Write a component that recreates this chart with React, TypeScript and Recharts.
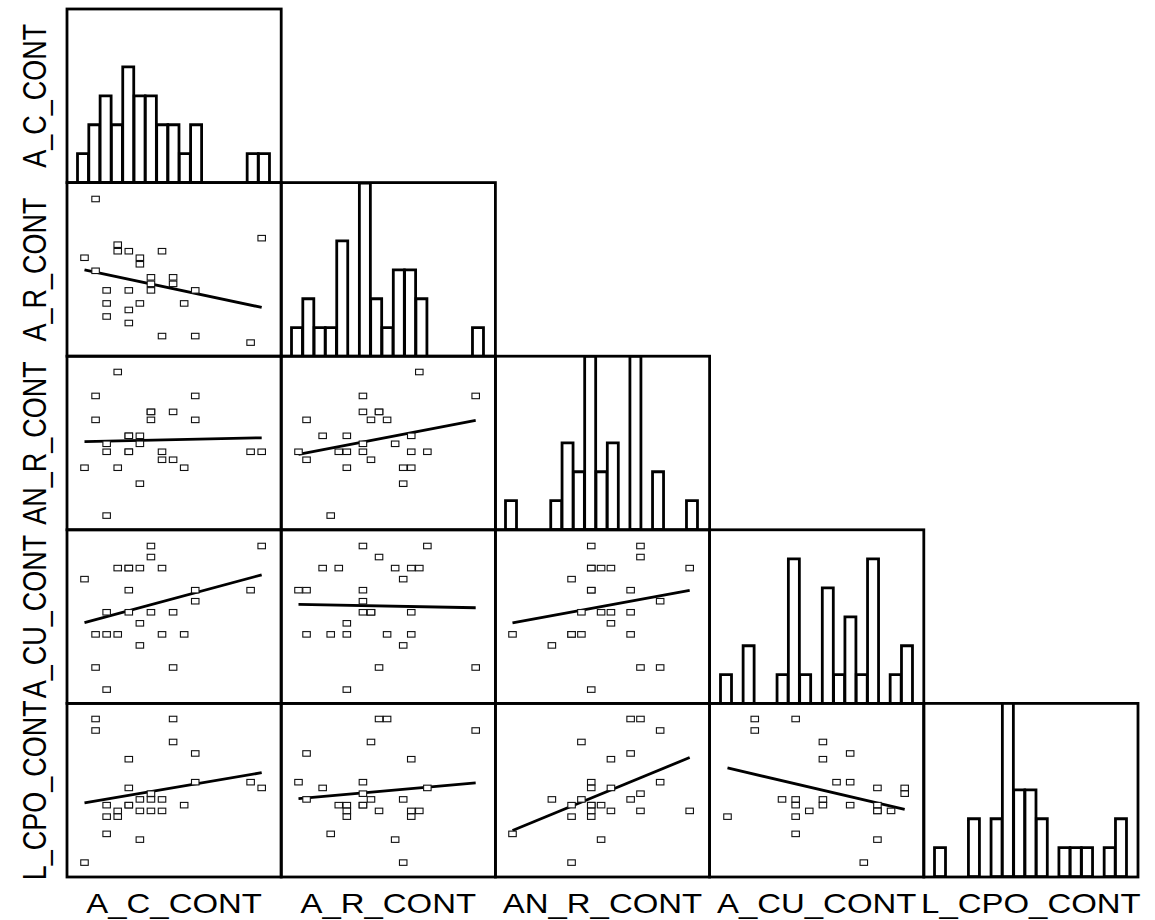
import React from 'react'
import { ScatterChart, Scatter, XAxis, YAxis, ReferenceLine, BarChart, Bar } from 'recharts'

const variables = ['A_C_CONT', 'A_R_CONT', 'AN_R_CONT', 'A_CU_CONT', 'L_CPO_CONT']
// observed min / max of each variable (integer steps)
const ranges: [number, number][] = [[0, 16], [0, 22], [0, 18], [0, 13], [0, 25]]

// 17 equal-width bins per variable
const histACCont = [1, 2, 3, 2, 4, 3, 3, 2, 2, 1, 2, 0, 0, 0, 0, 1, 1]
const histARCont = [1, 2, 1, 1, 4, 0, 6, 2, 1, 3, 3, 2, 0, 0, 0, 0, 1]
const histANRCont = [1, 0, 0, 0, 1, 3, 2, 6, 2, 3, 0, 6, 0, 2, 0, 0, 1]
const histACUCont = [1, 0, 2, 0, 0, 1, 5, 1, 0, 4, 1, 3, 1, 5, 0, 1, 2]
const histLCPOCont = [1, 0, 0, 2, 0, 2, 8, 3, 3, 2, 0, 1, 1, 1, 0, 1, 2]

// scatter pairs [x, y]
const arVsAc = [[1, 22], [16, 16], [3, 15], [3, 14], [4, 14], [7, 14], [0, 13], [5, 13], [5, 12], [1, 11], [6, 10], [8, 10], [6, 9], [8, 9], [2, 8], [4, 8], [6, 8], [10, 8], [2, 6], [5, 6], [9, 6], [4, 5], [2, 4], [4, 3], [7, 1], [10, 1], [15, 0]]
const anrVsAc = [[3, 18], [1, 15], [10, 15], [6, 13], [6, 13], [8, 13], [1, 12], [6, 12], [10, 12], [4, 10], [4, 10], [5, 10], [2, 9], [5, 9], [2, 8], [4, 8], [4, 8], [7, 8], [15, 8], [16, 8], [7, 7], [8, 7], [0, 6], [3, 6], [9, 6], [5, 4], [2, 0]]
const anrVsAr = [[15, 18], [8, 15], [22, 15], [8, 13], [10, 13], [10, 13], [1, 12], [9, 12], [11, 12], [3, 10], [6, 10], [14, 10], [8, 9], [12, 9], [0, 8], [5, 8], [6, 8], [8, 8], [14, 8], [16, 8], [1, 7], [9, 7], [6, 6], [13, 6], [14, 6], [13, 4], [4, 0]]
const acuVsAc = [[6, 13], [16, 13], [6, 12], [3, 11], [4, 11], [4, 11], [5, 11], [7, 11], [0, 10], [4, 9], [10, 9], [15, 9], [10, 8], [2, 7], [4, 7], [6, 7], [8, 7], [5, 6], [1, 5], [2, 5], [3, 5], [7, 5], [9, 5], [5, 4], [1, 2], [8, 2], [2, 0]]
const acuVsAr = [[8, 13], [16, 13], [10, 12], [3, 11], [5, 11], [12, 11], [14, 11], [15, 11], [13, 10], [0, 9], [1, 9], [8, 9], [8, 8], [8, 7], [9, 7], [9, 7], [14, 7], [6, 6], [1, 5], [4, 5], [6, 5], [11, 5], [14, 5], [13, 4], [10, 2], [22, 2], [6, 0]]
const acuVsAnr = [[8, 13], [13, 13], [13, 12], [8, 11], [8, 11], [9, 11], [10, 11], [18, 11], [6, 10], [8, 9], [8, 9], [12, 9], [15, 8], [7, 7], [9, 7], [10, 7], [12, 7], [10, 6], [0, 5], [6, 5], [6, 5], [7, 5], [12, 5], [4, 4], [13, 2], [15, 2], [8, 0]]
const lcpoVsAc = [[1, 25], [8, 25], [1, 23], [8, 21], [10, 19], [4, 18], [10, 14], [15, 14], [4, 13], [16, 13], [6, 12], [5, 11], [6, 11], [7, 11], [2, 10], [4, 10], [4, 10], [9, 10], [3, 9], [5, 9], [6, 9], [7, 9], [2, 8], [3, 8], [2, 5], [5, 4], [0, 0]]
const lcpoVsAr = [[10, 25], [11, 25], [22, 23], [9, 21], [1, 19], [14, 18], [0, 14], [8, 14], [3, 13], [16, 13], [8, 12], [1, 11], [9, 11], [13, 11], [5, 10], [6, 10], [8, 10], [8, 10], [6, 9], [10, 9], [14, 9], [15, 9], [6, 8], [14, 8], [4, 5], [12, 4], [13, 0]]
const lcpoVsAnr = [[12, 25], [13, 25], [15, 23], [7, 21], [12, 19], [10, 18], [8, 14], [15, 14], [8, 13], [10, 13], [13, 12], [4, 11], [7, 11], [12, 11], [6, 10], [8, 10], [8, 10], [9, 10], [8, 9], [10, 9], [13, 9], [18, 9], [6, 8], [8, 8], [0, 5], [9, 4], [6, 0]]
const lcpoVsAcu = [[2, 25], [5, 25], [2, 23], [7, 21], [9, 19], [7, 18], [8, 14], [9, 14], [11, 13], [13, 13], [13, 12], [4, 11], [5, 11], [7, 11], [5, 10], [7, 10], [9, 10], [11, 10], [6, 9], [11, 9], [11, 9], [12, 9], [0, 8], [5, 8], [5, 5], [11, 4], [10, 0]]

const histograms = [histACCont, histARCont, histANRCont, histACUCont, histLCPOCont]
// scatters[row][col], row = y variable, col = x variable
const scatters: Record<string, number[][]> = {
  '1-0': arVsAc,
  '2-0': anrVsAc, '2-1': anrVsAr,
  '3-0': acuVsAc, '3-1': acuVsAr, '3-2': acuVsAnr,
  '4-0': lcpoVsAc, '4-1': lcpoVsAr, '4-2': lcpoVsAnr, '4-3': lcpoVsAcu,
}

const LEFT = 67
const TOP = 9
const CELL_W = 214.2
const CELL_H = 173.6
const FONT = '"Liberation Sans", Arial, sans-serif'

// data min sits 17.5px from the left edge, max 19.5px from the right
function xDomain([lo, hi]: [number, number]): [number, number] {
  const k = (CELL_W - 37) / (hi - lo)
  return [lo - 17.5 / k, lo + (CELL_W - 17.5) / k]
}
// data max sits 16px below the top, min 14px above the bottom
function yDomain([lo, hi]: [number, number]): [number, number] {
  const k = (CELL_H - 30) / (hi - lo)
  return [hi - (CELL_H - 16) / k, hi + 16 / k]
}

function fitLine(pts: number[][]) {
  const n = pts.length
  const mx = pts.reduce((s, p) => s + p[0], 0) / n
  const my = pts.reduce((s, p) => s + p[1], 0) / n
  let sxy = 0
  let sxx = 0
  pts.forEach(([x, y]) => {
    sxy += (x - mx) * (y - my)
    sxx += (x - mx) * (x - mx)
  })
  const b = sxy / sxx
  const xs = pts.map(p => p[0])
  const x1 = Math.min(...xs)
  const x2 = Math.max(...xs)
  return [{ x: x1, y: my + b * (x1 - mx) }, { x: x2, y: my + b * (x2 - mx) }]
}

const Marker = (props: any) => {
  const { cx, cy } = props
  return <rect x={cx - 3.75} y={cy - 2.75} width={7.5} height={5.5} fill="#fff" stroke="#111" strokeWidth={1.1} />
}

function ScatterCell({ row, col }: { row: number; col: number }) {
  const pts = scatters[`${row}-${col}`]
  const data = pts.map(([x, y]) => ({ x, y }))
  return (
    <ScatterChart width={CELL_W} height={CELL_H} margin={{ top: 0, right: 0, bottom: 0, left: 0 }}>
      <XAxis type="number" dataKey="x" hide domain={xDomain(ranges[col])} allowDataOverflow />
      <YAxis type="number" dataKey="y" hide domain={yDomain(ranges[row])} allowDataOverflow />
      <Scatter data={data} shape={<Marker />} isAnimationActive={false} />
      <ReferenceLine segment={fitLine(pts)} stroke="#000" strokeWidth={2.8} ifOverflow="visible" />
    </ScatterChart>
  )
}

function HistCell({ idx }: { idx: number }) {
  const data = histograms[idx].map((count, bin) => ({ bin, count }))
  return (
    <BarChart width={CELL_W} height={CELL_H} data={data} barCategoryGap={0} barGap={0}
      margin={{ top: 0, right: 11.4, bottom: 0, left: 10.5 }}>
      <XAxis dataKey="bin" hide />
      <YAxis type="number" hide domain={[0, 6]} allowDataOverflow />
      <Bar dataKey="count" fill="#fff" stroke="#000" strokeWidth={2.8} isAnimationActive={false} />
    </BarChart>
  )
}

export default function App() {
  const cells: React.ReactNode[] = []
  for (let r = 0; r < 5; r++) {
    for (let c = 0; c <= r; c++) {
      cells.push(
        <div key={`${r}-${c}`} style={{ position: 'absolute', left: LEFT + c * CELL_W, top: TOP + r * CELL_H }}>
          {r === c ? <HistCell idx={r} /> : <ScatterCell row={r} col={c} />}
        </div>
      )
    }
  }
  return (
    <div style={{ position: 'absolute', left: 0, top: 0, width: 1155, height: 920, background: '#fff' }}>
      {cells}
      <svg width={1155} height={920} style={{ position: 'absolute', left: 0, top: 0, pointerEvents: 'none' }}>
        {variables.map((_, r) =>
          variables.slice(0, r + 1).map((__, c) => (
            <rect key={`f-${r}-${c}`} x={LEFT + c * CELL_W} y={TOP + r * CELL_H} width={CELL_W} height={CELL_H}
              fill="none" stroke="#000" strokeWidth={2.8} />
          ))
        )}
        {variables.map((name, i) => (
          <text key={`xl-${name}`} transform={`translate(${LEFT + (i + 0.5) * CELL_W},913) scale(1.22,1)`}
            textAnchor="middle" fontFamily={FONT} fontSize={27} fill="#000">{name}</text>
        ))}
        {variables.map((name, i) => (
          <text key={`yl-${name}`} transform={`translate(46,${TOP + (i + 0.5) * CELL_H}) scale(1.22,1) rotate(-90)`}
            textAnchor="middle" fontFamily={FONT} fontSize={27} fill="#000">{name}</text>
        ))}
      </svg>
    </div>
  )
}
